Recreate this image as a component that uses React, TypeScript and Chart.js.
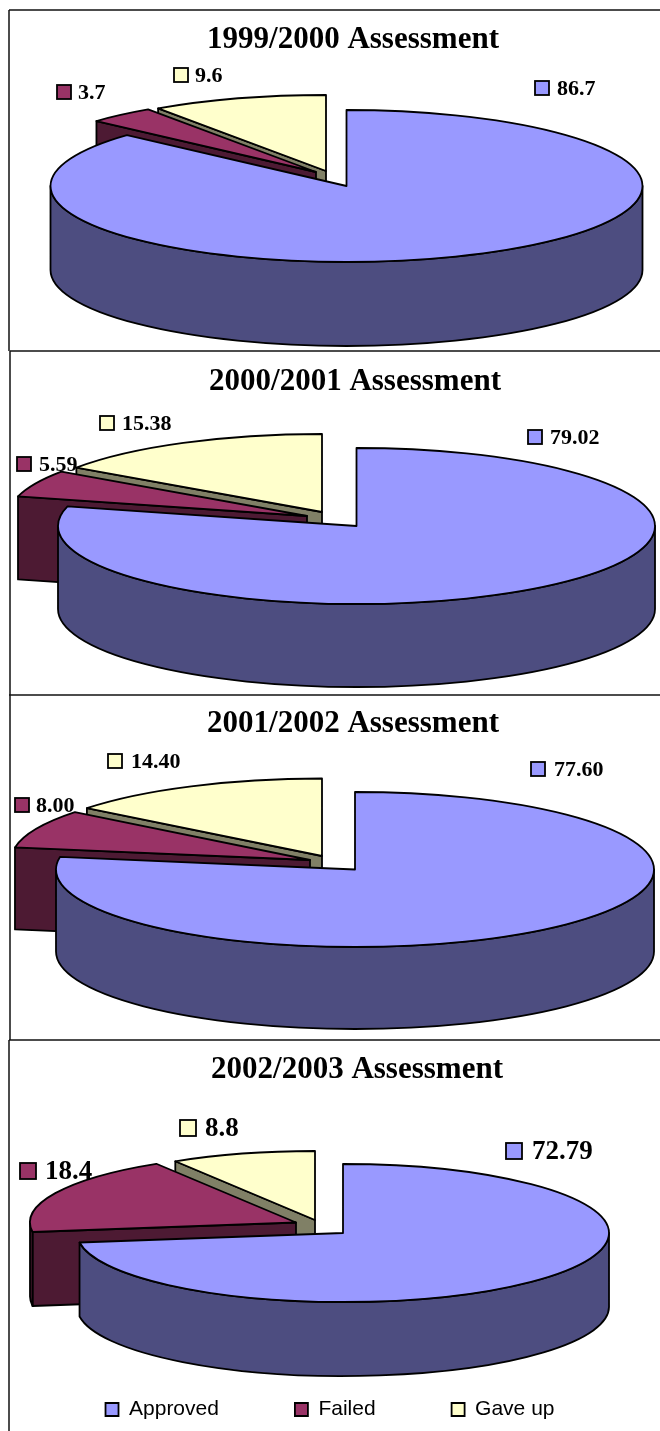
import React, { useEffect, useRef } from "react";
import { Chart, registerables } from "chart.js";

Chart.register(...registerables);

const categories = ["Approved", "Failed", "Gave up"];
const titles = ["1999/2000 Assessment", "2000/2001 Assessment", "2001/2002 Assessment", "2002/2003 Assessment"];
const approved = [86.7, 79.02, 77.6, 72.79];
const failed = [3.7, 5.59, 8.0, 18.4];
const gaveUp = [9.6, 15.38, 14.4, 8.8];
const approvedText = ["86.7", "79.02", "77.60", "72.79"];
const failedText = ["3.7", "5.59", "8.00", "18.4"];
const gaveUpText = ["9.6", "15.38", "14.40", "8.8"];

const topColors = ["#9999ff", "#993366", "#ffffcc"];
const wallColors = ["#4d4d80", "#4d1a33", "#808066"];

const SERIF = '"Liberation Serif", serif';
const SANS = '"Liberation Sans", sans-serif';
const STROKE = 1.8;

type Layout = {
  top: number; height: number; titleX: number; titlePad: number;
  cx: number; cy: number; rx: number; ry: number; depth: number;
  shifts: number[][];
  labelFont: number; box: number;
  labels: number[][];
  frame: number[][];
};

const layouts: Layout[] = [
  {
    top: 0, height: 352, titleX: 353, titlePad: 21,
    cx: 346.5, cy: 186, rx: 296, ry: 76, depth: 84,
    shifts: [[0, 0], [-30.5, -14], [-20.5, -15]],
    labelFont: 22, box: 14,
    labels: [[535, 81, 557], [57, 85, 78], [174, 68, 195]],
    frame: [[9, 10, 660, 10], [9, 10, 9, 351]],
  },
  {
    top: 349, height: 347, titleX: 355, titlePad: 14,
    cx: 356.5, cy: 526, rx: 298.5, ry: 78, depth: 83,
    shifts: [[0, 0], [-49.5, -10], [-34.5, -14]],
    labelFont: 22, box: 14,
    labels: [[528, 430, 550], [17, 457, 39], [100, 416, 122]],
    frame: [[10, 351, 660, 351], [10, 351, 10, 695]],
  },
  {
    top: 692, height: 349, titleX: 353, titlePad: 13,
    cx: 355, cy: 869.5, rx: 299, ry: 77.5, depth: 82,
    shifts: [[0, 0], [-45, -9.5], [-33, -13.5]],
    labelFont: 22, box: 14,
    labels: [[531, 762, 554], [15, 798, 36], [108, 754, 131]],
    frame: [[9, 695, 660, 695], [10, 695, 10, 1040]],
  },
  {
    top: 1037, height: 394, titleX: 357, titlePad: 14,
    cx: 343, cy: 1233, rx: 266, ry: 69, depth: 74,
    shifts: [[0, 0], [-47, -10.5], [-28, -13]],
    labelFont: 27, box: 16,
    labels: [[506, 1143, 532], [20, 1163, 45], [180, 1120, 205]],
    frame: [[9, 1040, 660, 1040], [9, 1040, 9, 1431]],
  },
];

const pie3d = {
  id: "pie3d",
  afterLayout(chart: any, _a: any, opts: any) {
    const l: Layout = opts.layout;
    if (chart.titleBlock) {
      chart.titleBlock.left = 2 * l.titleX - 660;
      chart.titleBlock.right = 660;
    }
    if (opts.legendBlock && chart.legend) {
      chart.legend.left = 0;
      chart.legend.right = 660;
      chart.legend.top = 1399 - l.top - 76;
    }
  },
  beforeDatasetsDraw(chart: any, _a: any, opts: any) {
    const l: Layout = opts.layout;
    const values: string[] = opts.texts;
    const ctx: CanvasRenderingContext2D = chart.ctx;
    const meta = chart.getDatasetMeta(0);

    ctx.save();
    ctx.strokeStyle = "#111";
    ctx.lineWidth = 1.5;
    l.frame.forEach((s) => {
      ctx.beginPath();
      ctx.moveTo(s[0], s[1] - l.top);
      ctx.lineTo(s[2], s[3] - l.top);
      ctx.stroke();
    });
    ctx.restore();

    // painted back to front: Gave up, Failed, Approved
    [2, 1, 0].forEach((i) => {
      const arc = meta.data[i];
      const { startAngle: a0, endAngle: a1, outerRadius: r } = arc.getProps(["startAngle", "endAngle", "outerRadius"], true);
      const k = l.ry / l.rx;
      const X = l.cx + l.shifts[i][0];
      const Y = l.cy - l.top + l.shifts[i][1];
      const ry = r * k;
      const pt = (t: number, d = 0) => [X + r * Math.cos(t), Y + ry * Math.sin(t) + d];

      ctx.save();
      ctx.lineJoin = "round";
      ctx.lineWidth = STROKE;
      ctx.strokeStyle = "#000";
      ctx.fillStyle = wallColors[i];

      if (i > 0) {
        const p = pt(a0);
        const q = pt(a0, l.depth);
        ctx.beginPath();
        ctx.moveTo(X, Y);
        ctx.lineTo(p[0], p[1]);
        ctx.lineTo(q[0], q[1]);
        ctx.lineTo(X, Y + l.depth);
        ctx.closePath();
        ctx.fill();
        ctx.stroke();
      }

      [-1, 0, 1].forEach((n) => {
        const lo = Math.max(a0, 2 * Math.PI * n);
        const hi = Math.min(a1, Math.PI + 2 * Math.PI * n);
        if (hi <= lo) return;
        ctx.beginPath();
        ctx.ellipse(X, Y, r, ry, 0, lo, hi);
        const q = pt(hi, l.depth);
        ctx.lineTo(q[0], q[1]);
        ctx.ellipse(X, Y + l.depth, r, ry, 0, hi, lo, true);
        ctx.closePath();
        ctx.fill();
        ctx.stroke();
      });

      ctx.save();
      ctx.translate(X, Y);
      ctx.scale(1, k);
      ctx.translate(-arc.x, -arc.y);
      arc.draw(ctx);
      ctx.restore();

      ctx.beginPath();
      ctx.moveTo(X, Y);
      ctx.ellipse(X, Y, r, ry, 0, a0, a1);
      ctx.closePath();
      ctx.stroke();
      ctx.restore();
    });

    ctx.save();
    ctx.font = `bold ${l.labelFont}px ${SERIF}`;
    ctx.textBaseline = "middle";
    ctx.textAlign = "left";
    l.labels.forEach((b, i) => {
      ctx.fillStyle = topColors[i];
      ctx.strokeStyle = "#000";
      ctx.lineWidth = STROKE;
      ctx.fillRect(b[0], b[1] - l.top, l.box, l.box);
      ctx.strokeRect(b[0], b[1] - l.top, l.box, l.box);
      ctx.fillStyle = "#000";
      ctx.fillText(values[i], b[2], b[1] - l.top + l.box / 2 + 1);
    });
    ctx.restore();
    return false;
  },
};

function Panel({ index }: { index: number }) {
  const ref = useRef<HTMLCanvasElement>(null);
  const l = layouts[index];
  useEffect(() => {
    const withLegend = index === 3;
    const chart = new Chart(ref.current as HTMLCanvasElement, {
      type: "pie",
      data: {
        labels: categories,
        datasets: [{
          data: [approved[index], failed[index], gaveUp[index]],
          backgroundColor: topColors,
          borderColor: "#000",
          borderWidth: 0,
        }],
      },
      plugins: [pie3d as any],
      options: {
        responsive: false,
        animation: false,
        devicePixelRatio: 1,
        events: [],
        radius: l.rx,
        plugins: {
          tooltip: { enabled: false },
          title: {
            display: true,
            text: titles[index],
            color: "#000",
            font: { family: SERIF, size: 31, weight: "bold" },
            padding: { top: l.titlePad, bottom: 0 },
          },
          legend: {
            display: withLegend,
            position: "bottom",
            labels: {
              color: "#000",
              font: { family: SANS, size: 21 },
              boxWidth: 13,
              boxHeight: 13,
              padding: 76,
              generateLabels(c: any) {
                return (Chart as any).overrides.doughnut.plugins.legend.labels.generateLabels(c).map((it: any) => ({
                  ...it, strokeStyle: "#000", lineWidth: STROKE,
                }));
              },
            },
          },
          pie3d: { layout: l, texts: [approvedText[index], failedText[index], gaveUpText[index]], legendBlock: withLegend },
        },
      } as any,
    });
    return () => chart.destroy();
  }, []);
  return (
    <canvas
      ref={ref}
      width={660}
      height={l.height}
      style={{ position: "absolute", left: 0, top: l.top, width: 660, height: l.height, display: "block" }}
    />
  );
}

export default function App() {
  return (
    <div style={{ position: "absolute", left: 0, top: 0, width: 660, height: 1431, overflow: "hidden", background: "#fff" }}>
      {layouts.map((_, i) => <Panel key={i} index={i} />)}
    </div>
  );
}
